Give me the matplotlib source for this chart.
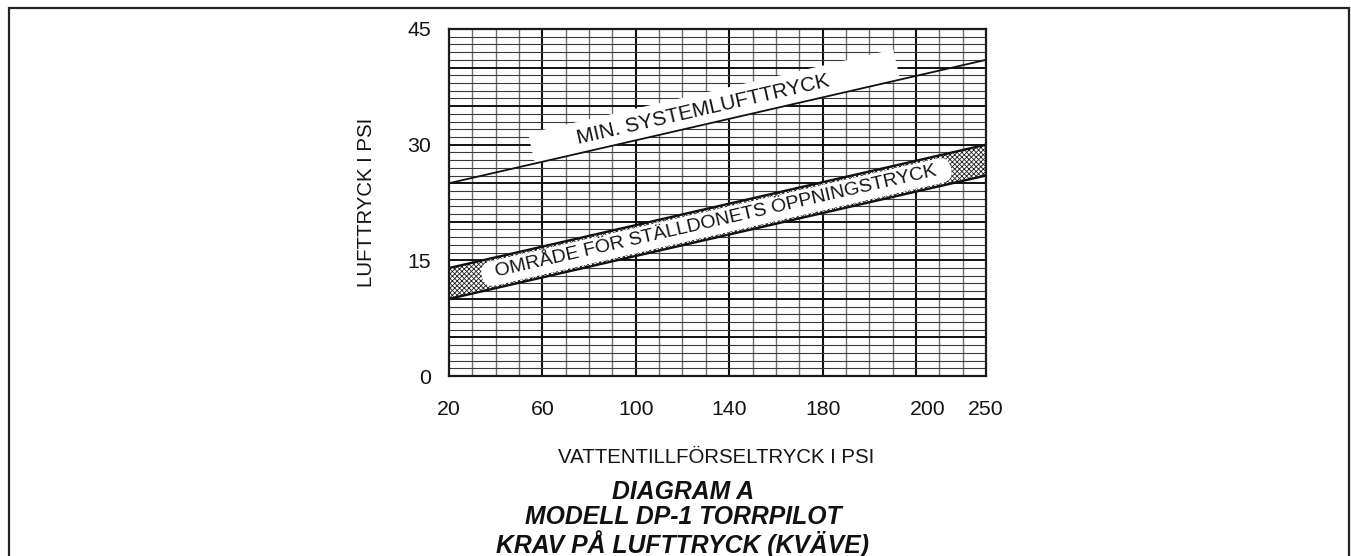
import numpy as np
import matplotlib
matplotlib.use("Agg")
import matplotlib.pyplot as plt
from matplotlib.patches import Rectangle

plt.rcParams['font.family'] = ['Liberation Sans', 'DejaVu Sans']
plt.rcParams['hatch.linewidth'] = 0.6

# ---------------- data ----------------
x_ticks = [20, 60, 100, 140, 180, 200, 250]
y_ticks = [0, 15, 30, 45]
x_range = [20, 250]
min_system = [25, 41]          # min. system air pressure
band_low = [10, 26]            # lower edge of actuator trip range
band_high = [14, 30]           # upper edge of actuator trip range
label_min = "MIN. SYSTEMLUFTTRYCK"
label_band = "OMRÅDE FÖR STÄLLDONETS ÖPPNINGSTRYCK"
xlabel = "VATTENTILLFÖRSELTRYCK I PSI"
ylabel = "LUFTTRYCK I PSI"
title_lines = ["DIAGRAM A", "MODELL DP-1 TORRPILOT", "KRAV PÅ LUFTTRYCK (KVÄVE)"]

# ---------------- chart-paper x scale (columns) ----------------
tick_cols = [0, 4, 8, 12, 16, 20.5, 23]
n_cols = 23


def _pl(v, xp, fp):
    v = np.asarray(v, dtype=float)
    out = np.interp(v, xp, fp)
    lo_s = (fp[1] - fp[0]) / (xp[1] - xp[0])
    hi_s = (fp[-1] - fp[-2]) / (xp[-1] - xp[-2])
    out = np.where(v < xp[0], fp[0] + (v - xp[0]) * lo_s, out)
    out = np.where(v > xp[-1], fp[-1] + (v - xp[-1]) * hi_s, out)
    return out


def fwd(x):
    return _pl(x, x_ticks, tick_cols)


def inv(c):
    return _pl(c, tick_cols, x_ticks)


W, H = 1351, 556
fig = plt.figure(figsize=(W / 100, H / 100), dpi=100)
ax = fig.add_axes([449 / W, 1 - 376 / H, (986 - 449) / W, (376 - 29) / H])
ax.set_xscale('function', functions=(fwd, inv))
ax.set_xlim(x_range)
ax.set_ylim(y_ticks[0], y_ticks[-1])

# grid
cols = np.arange(1, n_cols)
for c in cols:
    major = (c % 4 == 0)
    ax.axvline(float(inv(c)), color='#111111' if major else '#6e6e6e',
               lw=1.5 if major else 1.0, zorder=1)
for yv in range(1, 45):
    major = (yv % 5 == 0)
    ax.axhline(yv, color='#111111' if major else '#3a3a3a',
               lw=1.4 if major else 0.8, zorder=1)

for s in ax.spines.values():
    s.set_linewidth(1.6)
    s.set_color('#1a1a1a')
    s.set_zorder(6)

ax.set_xticks(x_ticks)
ax.set_xticklabels([str(v) for v in x_ticks])
ax.set_yticks(y_ticks)
ax.set_yticklabels([str(v) for v in y_ticks])
ax.xaxis.set_minor_locator(matplotlib.ticker.NullLocator())
ax.tick_params(axis='both', length=0, labelsize=15.3, colors='#141414')
ax.tick_params(axis='x', pad=17.5)
ax.tick_params(axis='y', pad=13)

# band
ax.fill_between(x_range, band_low, band_high, facecolor='white',
                hatch='xxxxxxx', edgecolor='#202020', linewidth=0, zorder=2)
ax.plot(x_range, band_low, color='#111111', lw=1.7, zorder=3)
ax.plot(x_range, band_high, color='#111111', lw=1.7, zorder=3)

# min system line
ax.plot(x_range, min_system, color='#111111', lw=1.3, zorder=5)

# angle of lines in display space
p0 = ax.transData.transform((x_range[0], min_system[0]))
p1 = ax.transData.transform((x_range[1], min_system[1]))
angle = np.degrees(np.arctan2(p1[1] - p0[1], p1[0] - p0[0]))

# band label
c_band = 11.45
yb = (band_low[0] + band_high[0]) / 2 + ((band_low[1] + band_high[1]) / 2 -
                                         (band_low[0] + band_high[0]) / 2) * c_band / n_cols
ax.text(float(inv(c_band)), yb, "  " + label_band + "  ", rotation=angle,
        rotation_mode='anchor', ha='center', va='center', fontsize=14,
        color='#141414', zorder=4,
        bbox=dict(boxstyle='round,pad=0.2,rounding_size=0.6',
                  fc='white', ec='none'))

# min label
c_min = 11.5
ym = min_system[0] + (min_system[1] - min_system[0]) * c_min / n_cols
ax.annotate("       " + label_min + "           ", xy=(float(inv(c_min)), ym),
            xytext=(-7 * np.sin(np.radians(angle)), 7 * np.cos(np.radians(angle))),
            textcoords='offset points', rotation=angle, rotation_mode='anchor',
            ha='center', va='baseline', fontsize=15, color='#141414', zorder=4,
            bbox=dict(boxstyle='square,pad=0.3', fc='white', ec='none'))

# axis labels
fig.text(716 / W, 1 - 457.5 / H, xlabel, ha='center', va='center',
         fontsize=14.7, color='#141414')
fig.text(367 / W, 1 - 202 / H, ylabel, ha='center', va='center', rotation=90,
         fontsize=14.7, color='#141414')

# title
fig.text(683 / W, 1 - 519 / H, "\n".join(title_lines), ha='center', va='center',
         fontsize=17.8, fontweight='bold', fontstyle='italic', color='#111111',
         linespacing=1.07)

# outer frame
fig.add_artist(Rectangle((9 / W, -0.2), (1349 - 9) / W, 1.2 - 8 / H,
                         transform=fig.transFigure, fill=False,
                         edgecolor='#222222', lw=1.6))

fig.savefig("out.png", dpi=100)
